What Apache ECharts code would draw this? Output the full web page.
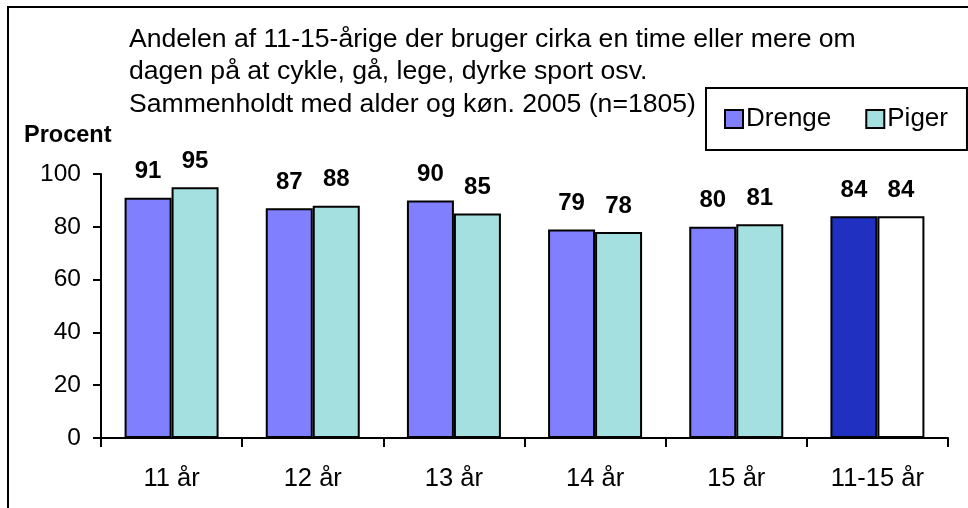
<!DOCTYPE html>
<html>
<head>
<meta charset="utf-8">
<script src="https://cdn.jsdelivr.net/npm/echarts@6/dist/echarts.min.js"></script>
<style>
  html, body { margin: 0; padding: 0; background: #fff; }
  #main { width: 968px; height: 508px; }
</style>
</head>
<body>
<div id="main"></div>
<script>
(function() {
  var categories = ['11 år', '12 år', '13 år', '14 år', '15 år', '11-15 år'];
  var drenge = [91, 87, 90, 79, 80, 84];
  var piger = [95, 88, 85, 78, 81, 84];
  var yTicks = [0, 20, 40, 60, 80, 100];

  var font = "'Liberation Sans', Arial, sans-serif";
  var myChart = echarts.init(document.getElementById('main'));

  // sidste gruppe (11-15 år) har egne farver
  function withTotal(values, totalColor) {
    return values.map(function (v, i) {
      if (i === values.length - 1)
        return { value: v, itemStyle: { color: totalColor } };
      return v;
    });
  }

  var option = {
    backgroundColor: '#fff',
    animation: false,
    textStyle: { fontFamily: font, color: '#000' },
    title: {
      text: 'Andelen af 11-15-årige der bruger cirka en time eller mere om\ndagen på at cykle, gå, lege, dyrke sport osv.\nSammenholdt med alder og køn. 2005 (n=1805)',
      left: 124,
      top: 18,
      textStyle: {
        fontFamily: font,
        fontWeight: 'normal',
        fontSize: 26.6,
        lineHeight: 32.5,
        color: '#000'
      }
    },
    legend: {
      left: 706,
      top: 88,
      padding: [18, 19, 18, 18],
      backgroundColor: '#fff',
      borderColor: '#000',
      borderWidth: 2,
      borderRadius: 0,
      icon: 'rect',
      itemWidth: 18,
      itemHeight: 18,
      itemGap: 34,
      textStyle: { fontFamily: font, fontSize: 26, color: '#000', padding: [0, 0, 0, -2] },
      data: ['Drenge', 'Piger']
    },
    graphic: [{
      type: 'rect',
      shape: { x: 8, y: 7, width: 1000, height: 1000 },
      style: { fill: 'none', stroke: '#000', lineWidth: 2 },
      z: 100
    }, {
      type: 'text',
      left: 24,
      top: 124,
      style: { text: 'Procent', font: 'bold 23.5px ' + font, fill: '#000' }
    }],
    grid: { left: 101, right: 20, top: 174, bottom: 70, containLabel: false },
    xAxis: {
      type: 'category',
      data: categories,
      axisLine: { lineStyle: { color: '#000', width: 2 } },
      axisTick: { show: true, length: 9, lineStyle: { color: '#000', width: 2 } },
      axisLabel: { fontFamily: font, fontSize: 25.5, color: '#000', margin: 28 }
    },
    yAxis: {
      type: 'value',
      min: yTicks[0],
      max: yTicks[yTicks.length - 1],
      interval: 20,
      splitLine: { show: false },
      axisLine: { show: true, lineStyle: { color: '#000', width: 2 } },
      axisTick: { show: true, length: 8, lineStyle: { color: '#000', width: 2 } },
      axisLabel: { fontFamily: font, fontSize: 24.5, color: '#000', margin: 20 }
    },
    series: [{
      name: 'Drenge',
      type: 'bar',
      barWidth: 47,
      barGap: '0%',
      itemStyle: { color: '#8080FF', borderColor: '#000', borderWidth: 2 },
      label: { show: true, position: 'top', distance: 14, fontFamily: font, fontWeight: 'bold', fontSize: 24, color: '#000' },
      data: withTotal(drenge, '#2030C0')
    }, {
      name: 'Piger',
      type: 'bar',
      barWidth: 47,
      barGap: '0%',
      itemStyle: { color: '#A4E0E0', borderColor: '#000', borderWidth: 2 },
      label: { show: true, position: 'top', distance: 14, fontFamily: font, fontWeight: 'bold', fontSize: 24, color: '#000' },
      data: withTotal(piger, '#FFFFFF')
    }]
  };

  myChart.setOption(option);
})();
</script>
</body>
</html>
